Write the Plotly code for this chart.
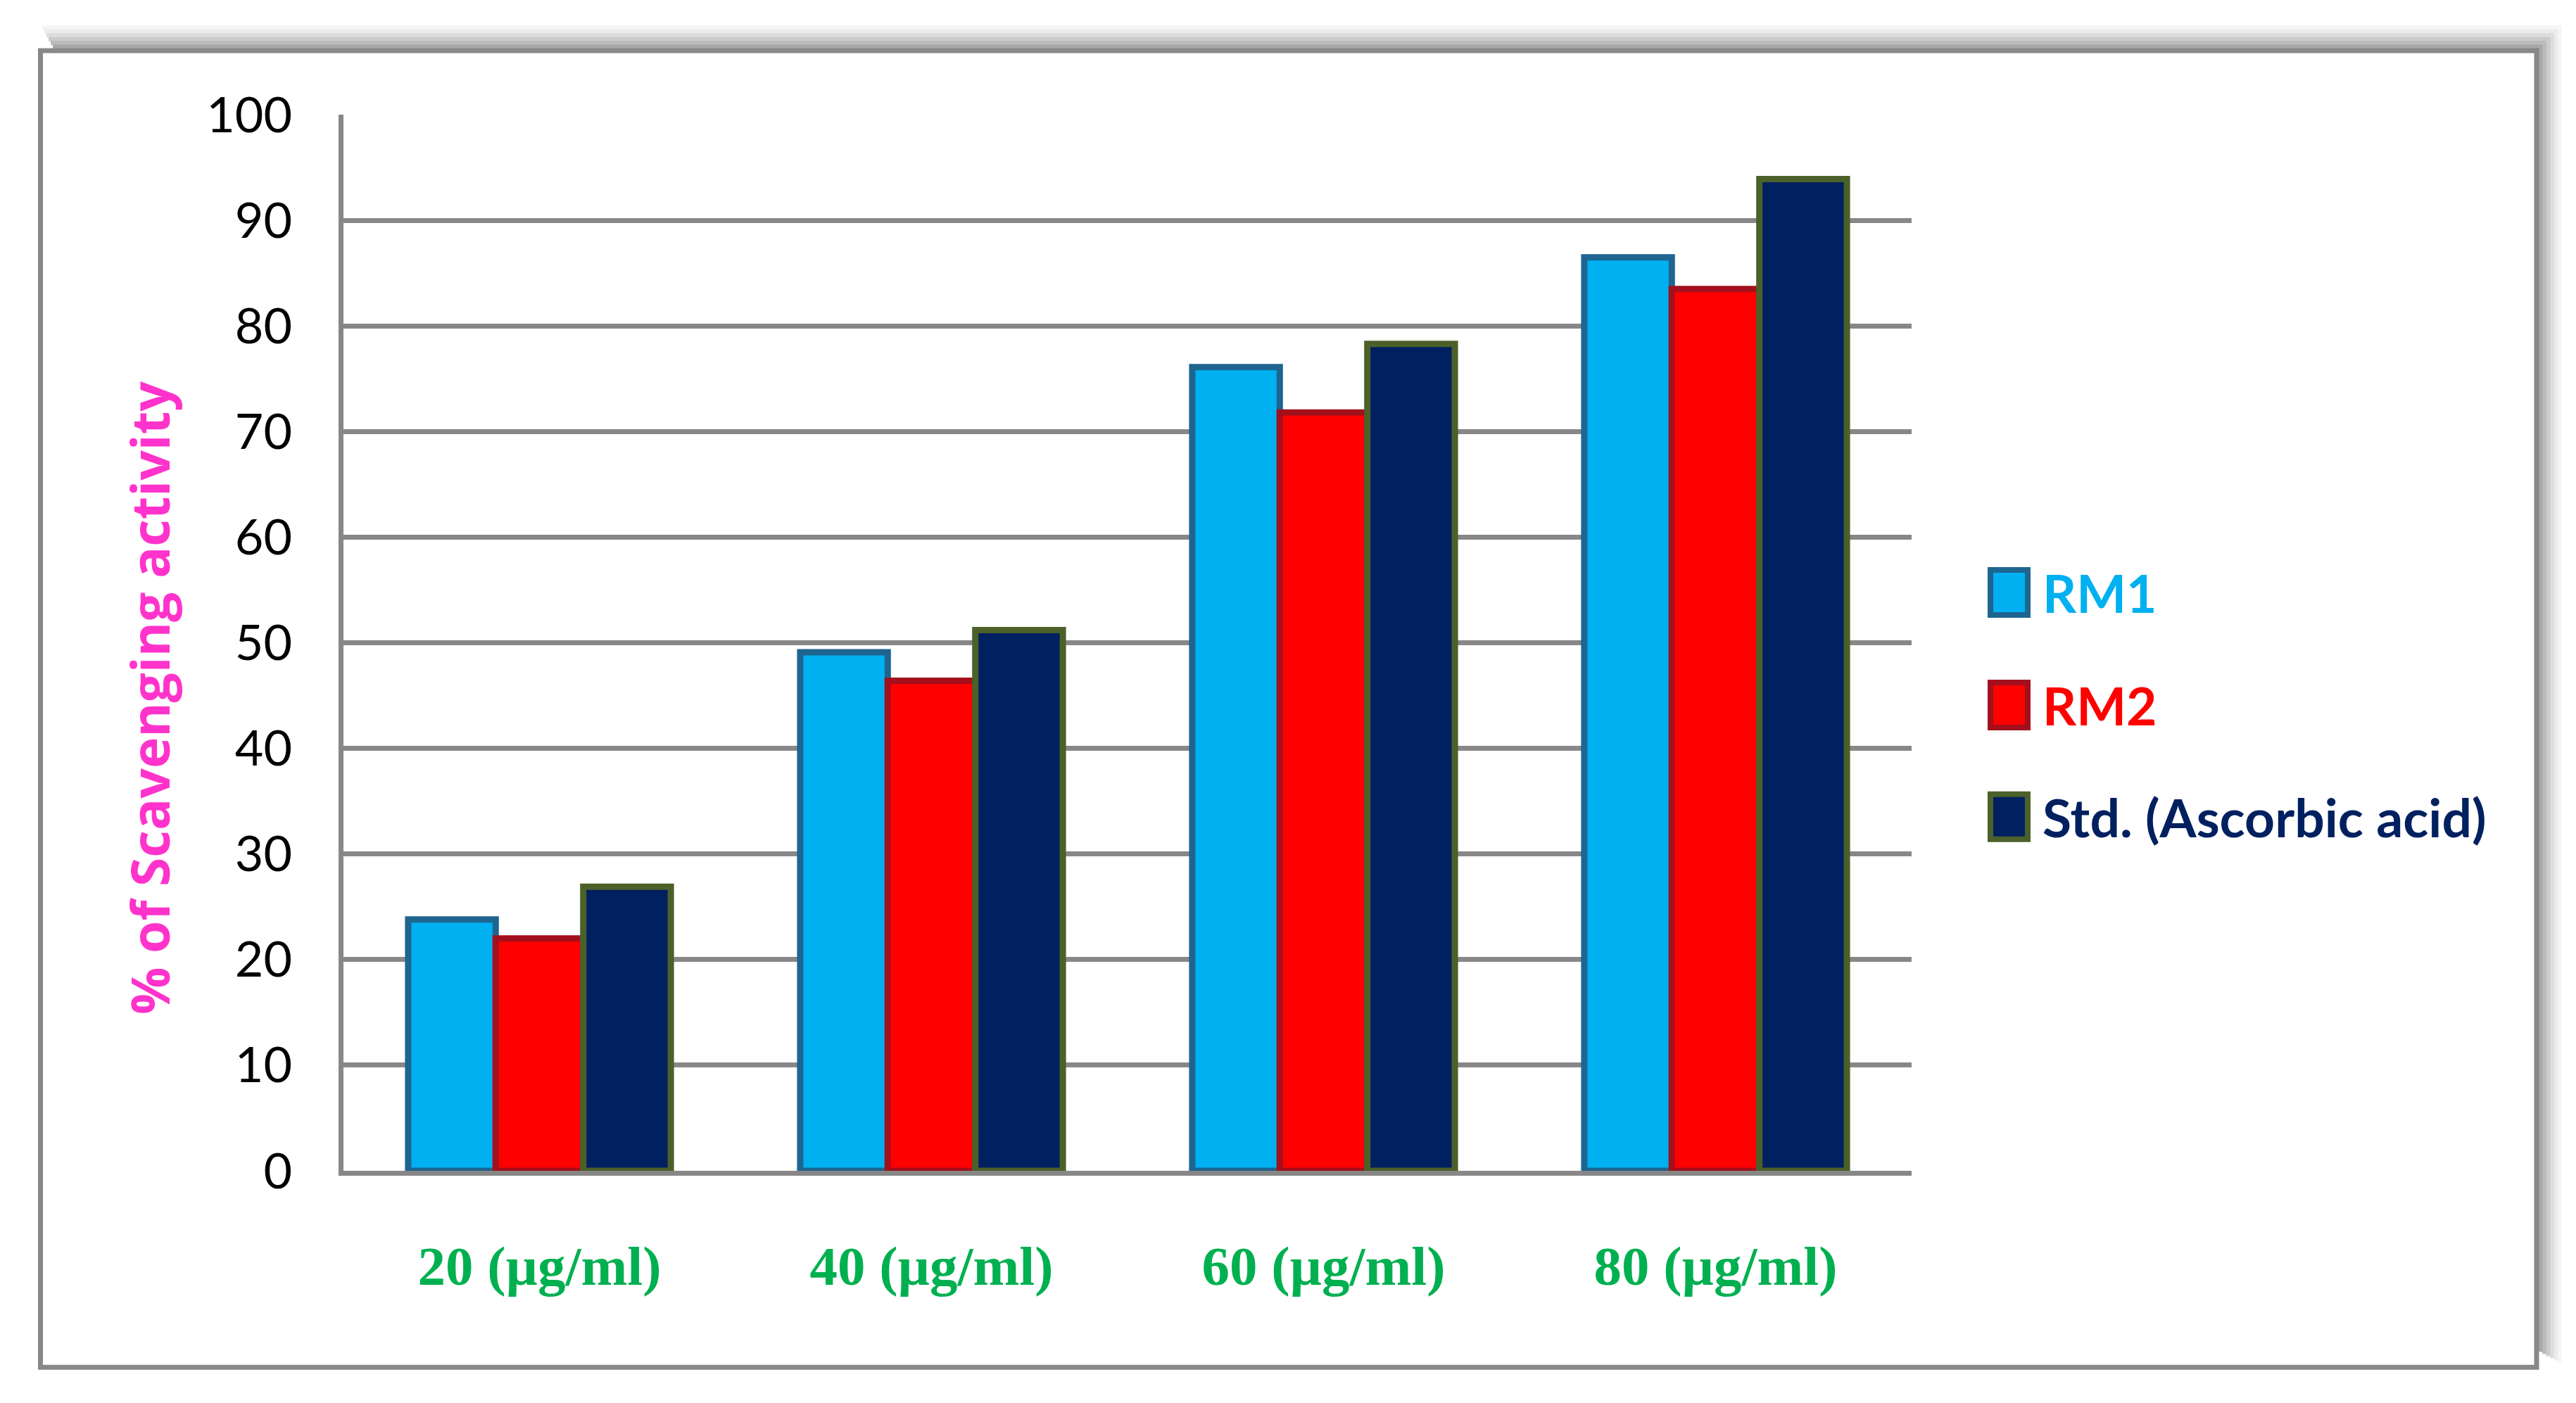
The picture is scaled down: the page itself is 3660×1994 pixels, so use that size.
import plotly.graph_objects as go

# ---------------- data ----------------
categories = ["20 (µg/ml)", "40 (µg/ml)", "60 (µg/ml)", "80 (µg/ml)"]
series_names = ["RM1", "RM2", "Std. (Ascorbic acid)"]
rm1_values = [23.8, 49.1, 76.1, 86.5]
rm2_values = [22.0, 46.4, 71.8, 83.5]
std_values = [26.9, 51.2, 78.3, 93.9]
y_ticks = [0, 10, 20, 30, 40, 50, 60, 70, 80, 90, 100]

# ---------------- styling ----------------
W, H = 3660, 1994
OFF = 8  # page body margin compensation
L, R, T, B = 488 - OFF, 2716 - OFF, 162.5 - OFF, 1664.5 - OFF   # plot area in figure pixels
fills = ["#00B0F0", "#FF0000", "#002060"]
borders = ["#1E6590", "#A3101C", "#4C602A"]
text_colors = ["#00B0F0", "#FF0000", "#002060"]
grid_col = "#878787"

def px(x):
    return (x - OFF - L) / (R - L)

def py(y):
    return (B - (y - OFF)) / (B - T)

fig = go.Figure()
for name, vals, fc, bc in zip(series_names, [rm1_values, rm2_values, std_values], fills, borders):
    fig.add_trace(go.Bar(
        x=categories, y=vals, name=name,
        marker=dict(color=fc, line=dict(color=bc, width=9)),
        showlegend=False,
    ))

shapes = []
# soft shadow of the outer frame (top and right), from faint outer to darker inner
shadow_cols = ["#F6F6F6", "#ECECEC", "#DDDDDD", "#CCCCCC", "#BBBBBB", "#A8A8A8"]
n = len(shadow_cols)
for i, c in enumerate(shadow_cols):
    d = 5.5 * (n - i)
    xs0 = 60 + 3 * i
    ytop = 71.5 - d
    xr = 3604 + d
    ybot = 1937 - 3 * i
    path = (f"M {px(xs0)},{py(ytop)} L {px(xr)},{py(ytop)} L {px(xr)},{py(ybot)}")
    shapes.append(dict(type="path", xref="paper", yref="paper", path=path,
                       line=dict(color=c, width=6), layer="below"))
# outer frame
shapes.append(dict(type="rect", xref="paper", yref="paper",
                   x0=px(57.5), x1=px(3604), y0=py(1944), y1=py(71.5),
                   fillcolor="white",
                   line=dict(color="#888888", width=7), layer="below"))

# custom legend
legend_y = [842, 1002, 1161]
annotations = []
for name, yc, fc, bc, tc in zip(series_names, legend_y, fills, borders, text_colors):
    shapes.append(dict(type="rect", xref="paper", yref="paper",
                       x0=px(2828), x1=px(2881), y0=py(yc + 32), y1=py(yc - 32),
                       fillcolor=fc, line=dict(color=bc, width=8)))
    annotations.append(dict(x=px(2900), y=py(yc), xref="paper", yref="paper",
                            xanchor="left", yanchor="middle", showarrow=False,
                            text=name,
                            font=dict(family="Lato, Open Sans, sans-serif",
                                      size=75, color=tc, weight="bold")))

# y-axis title
annotations.append(dict(x=px(212), y=py(992), xref="paper", yref="paper",
                        xanchor="center", yanchor="middle", showarrow=False,
                        textangle=-90, text="% of Scavenging activity",
                        font=dict(family="Open Sans, Lato, sans-serif",
                                  size=75, color="#FF33CC", weight="bold")))

fig.update_layout(
    width=W, height=H, autosize=False,
    margin=dict(l=L, r=W - R, t=T, b=H - B, pad=0),
    paper_bgcolor="white", plot_bgcolor="rgba(0,0,0,0)",
    barmode="group", bargap=0.33, bargroupgap=0.0,
    shapes=shapes, annotations=annotations,
    showlegend=False,
)
fig.update_xaxes(
    showline=True, linecolor=grid_col, linewidth=7,
    ticks="", showgrid=False,
    tickfont=dict(family="Liberation Serif, Times New Roman, serif", size=79,
                  color="#00B050", weight="bold"),
    ticklabelstandoff=60,
)
fig.update_yaxes(
    range=[0, 100], tickvals=y_ticks, ticktext=[str(v) for v in y_ticks],
    showgrid=True, gridcolor=grid_col, gridwidth=7,
    showline=True, linecolor=grid_col, linewidth=7,
    zeroline=False, ticks="",
    tickfont=dict(family="Lato, Open Sans, sans-serif", size=70, color="black"),
    ticklabelstandoff=52,
)

fig.write_html("out.html")
